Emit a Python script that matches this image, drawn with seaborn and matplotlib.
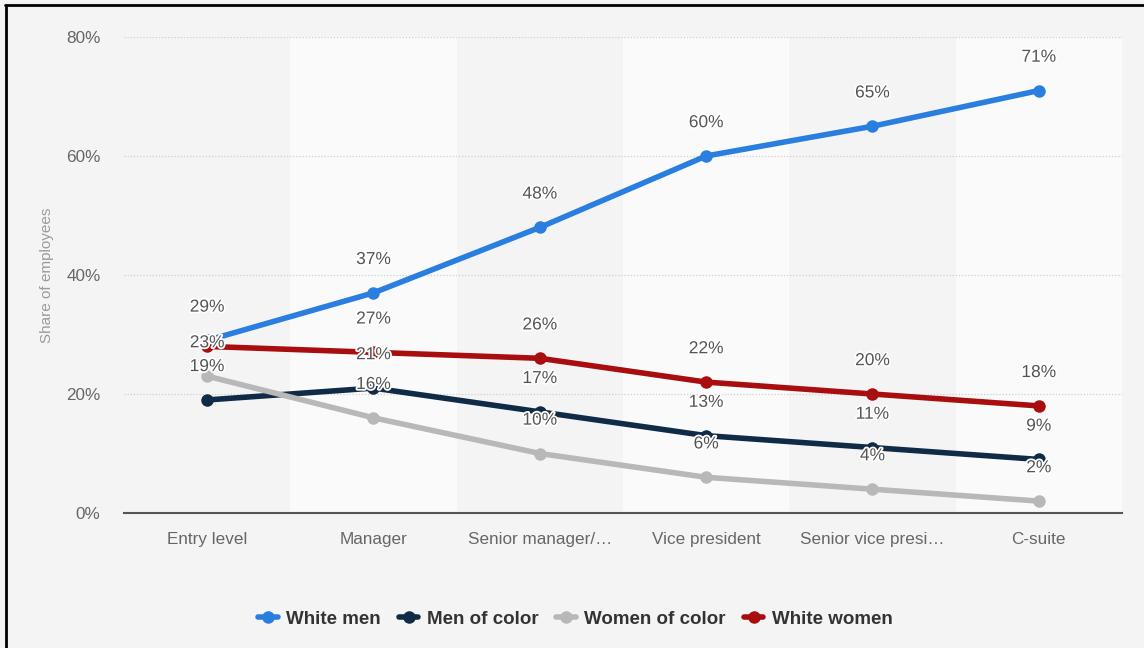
"""Share of employees by job level, race and gender — line chart."""

import pandas as pd
import matplotlib as mpl
import matplotlib.pyplot as plt
import matplotlib.patheffects as pe
from matplotlib.lines import Line2D
import seaborn as sns

# ── data ──────────────────────────────────────────────────────────────────────
levels = ["Entry level", "Manager", "Senior manager/…", "Vice president",
          "Senior vice presi…", "C-suite"]
white_men = [29, 37, 48, 60, 65, 71]
men_of_color = [19, 21, 17, 13, 11, 9]
women_of_color = [23, 16, 10, 6, 4, 2]
white_women = [28, 27, 26, 22, 20, 18]
y_ticks = [0, 20, 40, 60, 80]

series = {
    "White men": white_men,
    "Men of color": men_of_color,
    "Women of color": women_of_color,
    "White women": white_women,
}
colors = {
    "White men": "#2a7ee0",
    "Men of color": "#0f2b46",
    "Women of color": "#b8b8b8",
    "White women": "#a80d0f",
}
# labels hidden in the original because they collide with another one
hidden = {("White women", "Entry level")}

df = pd.DataFrame(
    [(lvl, name, v) for name, vals in series.items() for lvl, v in zip(levels, vals)],
    columns=["level", "group", "share"],
)

# ── style ─────────────────────────────────────────────────────────────────────
sns.set_theme(style="white")
BG = "#f4f4f4"
mpl.rcParams.update({
    "font.family": ["Liberation Sans", "DejaVu Sans"],
    "figure.facecolor": BG,
    "axes.facecolor": BG,
})

fig = plt.figure(figsize=(11.44, 6.48), dpi=100)
ax = fig.add_axes([124 / 1144, 1 - 513 / 648, 998 / 1144, 476 / 648])

# alternating column bands
for i in range(len(levels)):
    if i % 2 == 1:
        ax.axvspan(i - 0.5, i + 0.5, color="#fafafa", zorder=0, lw=0)

for yv in y_ticks[1:]:
    ax.axhline(yv, color="#cfcfcf", lw=0.9, ls=(0, (1, 1.5)), zorder=1)

sns.lineplot(data=df, x="level", y="share", hue="group", palette=colors,
             hue_order=list(series), sort=False, marker="o", markersize=9,
             markeredgewidth=0, linewidth=4, ax=ax, legend=False, zorder=3)

for name, vals in series.items():
    for i, (lvl, v) in enumerate(zip(levels, vals)):
        if (name, lvl) in hidden:
            continue
        ax.annotate(f"{v}%", (i, v), xytext=(0, 24), textcoords="offset points",
                    ha="center", va="center", fontsize=12.5, color="#555555",
                    zorder=5,
                    path_effects=[pe.withStroke(linewidth=2.5, foreground="white")])

ax.set_xlim(-0.5, len(levels) - 0.5)
ax.set_ylim(0, 80)
ax.set_yticks(y_ticks)
ax.set_yticklabels([f"{t}%" for t in y_ticks])
ax.set_xticks(range(len(levels)))
ax.set_xticklabels(levels)
ax.tick_params(axis="both", length=0, labelsize=12.3, colors="#666666")
ax.tick_params(axis="x", pad=14)
ax.tick_params(axis="y", pad=17)
ax.set_xlabel("")
ax.set_ylabel("Share of employees", fontsize=11, color="#9a9a9a", labelpad=9)

for side in ["top", "right", "left"]:
    ax.spines[side].set_visible(False)
ax.spines["bottom"].set_color("#555555")
ax.spines["bottom"].set_linewidth(1.5)
ax.spines["bottom"].set_zorder(4)

handles = [Line2D([0], [0], color=colors[n], lw=4, marker="o", markersize=9,
                  markeredgewidth=0) for n in series]
fig.legend(handles, list(series), loc="center", bbox_to_anchor=(0.503, 1 - 619 / 648),
           ncol=4, frameon=False, handlelength=1.05, handletextpad=0.45,
           columnspacing=0.95, prop={"weight": "bold", "size": 13.5},
           labelcolor="#333333")

# screenshot frame (top and left edges)
fig.add_artist(Line2D([5 / 1144, 1], [1 - 5 / 648, 1 - 5 / 648],
                      transform=fig.transFigure, color="black", lw=2))
fig.add_artist(Line2D([6 / 1144, 6 / 1144], [0, 1 - 5 / 648],
                      transform=fig.transFigure, color="black", lw=2))

fig.savefig("out.png", dpi=100, facecolor=BG)
